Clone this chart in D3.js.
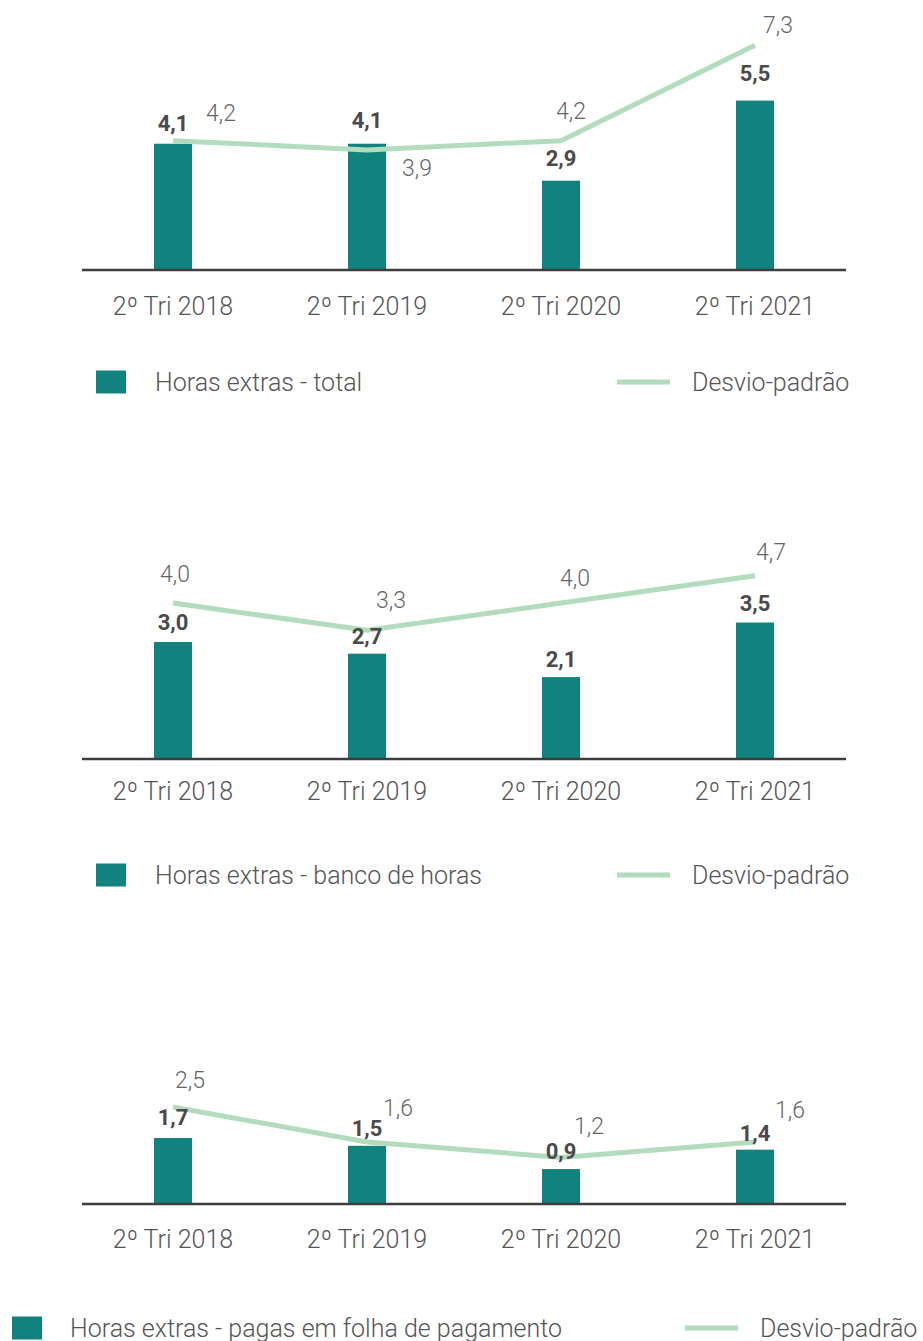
<!DOCTYPE html>
<html>
<head>
<meta charset="utf-8">
<script src="https://cdn.jsdelivr.net/npm/d3@7/dist/d3.min.js"></script>
<style>
  html, body { margin: 0; padding: 0; background: #fff; }
  svg { display: block; font-family: Roboto, "Noto Sans", sans-serif; }
</style>
</head>
<body>
<svg id="chart" width="923" height="1341"></svg>
<script>
// Quarters shown on every panel
const categories = ["2º Tri 2018", "2º Tri 2019", "2º Tri 2020", "2º Tri 2021"];

// Overtime – total
const totalHours = [4.1, 4.1, 2.9, 5.5];
const totalStdDev = [4.2, 3.9, 4.2, 7.3];

// Overtime – hour bank
const bankHours = [3.0, 2.7, 2.1, 3.5];
const bankStdDev = [4.0, 3.3, 4.0, 4.7];

// Overtime – paid through payroll
const payrollHours = [1.7, 1.5, 0.9, 1.4];
const payrollStdDev = [2.5, 1.6, 1.2, 1.6];

const seriesNames = [
  "Horas extras - total",
  "Horas extras - banco de horas",
  "Horas extras - pagas em folha de pagamento"
];
const stdDevName = "Desvio-padrão";

const BAR = "#12827e", LINE = "#b3dcbf", AXIS = "#3d3d3d";
const fmt = v => d3.format(".1f")(v).replace(".", ",");

// Panel geometry and label nudges
const panels = [
  {
    bars: totalHours, sd: totalStdDev, name: seriesNames[0],
    base: 270, yMax: 8, top: 270 - 8 * 30.8, catY: 306,
    barLab: [-20, -23, -22, -27],
    sdLab: [[48, -27], [50, 19], [10, -29], [23, -20]],
    legY: 382, legSq: 96, legTx: 155, legLn: 617, legLnTx: 692
  },
  {
    bars: bankHours, sd: bankStdDev, name: seriesNames[1],
    base: 759, yMax: 5, top: 759 - 5 * 39, catY: 791,
    barLab: [-20, -17, -18, -19],
    sdLab: [[2, -29], [24, -30], [14, -25], [16, -23]],
    legY: 875, legSq: 96, legTx: 155, legLn: 617, legLnTx: 692
  },
  {
    bars: payrollHours, sd: payrollStdDev, name: seriesNames[2],
    base: 1204, yMax: 3, top: 1204 - 3 * 38.8, catY: 1239,
    barLab: [-21, -17, -18, -16],
    sdLab: [[17, -27], [31, -33], [28, -31], [35, -31]],
    legY: 1328, legSq: 12, legTx: 70, legLn: 685, legLnTx: 760
  }
];

const svg = d3.select("#chart");
const x = d3.scalePoint().domain(categories).range([173, 755]);
const barW = 38;

panels.forEach(p => {
  const g = svg.append("g");
  const y = d3.scaleLinear().domain([0, p.yMax]).range([p.base, p.top]);

  // bars
  g.selectAll("rect.bar").data(p.bars).join("rect")
    .attr("class", "bar")
    .attr("x", (d, i) => x(categories[i]) - barW / 2)
    .attr("y", d => y(d))
    .attr("width", barW)
    .attr("height", d => y(0) - y(d))
    .attr("fill", BAR);

  // baseline axis
  g.append("line")
    .attr("x1", 82).attr("x2", 846)
    .attr("y1", p.base).attr("y2", p.base)
    .attr("stroke", AXIS).attr("stroke-width", 2.5);

  // category labels
  g.selectAll("text.cat").data(categories).join("text")
    .attr("class", "cat")
    .attr("x", d => x(d)).attr("y", p.catY)
    .attr("text-anchor", "middle").attr("dominant-baseline", "central")
    .attr("font-size", 25).attr("font-weight", 300).attr("fill", "#555")
    .text(d => d);

  // standard deviation line
  const line = d3.line().x((d, i) => x(categories[i])).y(d => y(d));
  g.append("path").datum(p.sd)
    .attr("d", line)
    .attr("fill", "none").attr("stroke", LINE).attr("stroke-width", 5)
    .attr("stroke-linejoin", "round");

  // bar value labels
  g.selectAll("text.bv").data(p.bars).join("text")
    .attr("class", "bv")
    .attr("x", (d, i) => x(categories[i]))
    .attr("y", (d, i) => y(d) + p.barLab[i])
    .attr("text-anchor", "middle").attr("dominant-baseline", "central")
    .attr("font-size", 22).attr("font-weight", 700).attr("fill", "#4a4a4a")
    .text(fmt);

  // line value labels
  g.selectAll("text.sv").data(p.sd).join("text")
    .attr("class", "sv")
    .attr("x", (d, i) => x(categories[i]) + p.sdLab[i][0])
    .attr("y", (d, i) => y(d) + p.sdLab[i][1])
    .attr("text-anchor", "middle").attr("dominant-baseline", "central")
    .attr("font-size", 23).attr("font-weight", 300).attr("fill", "#666")
    .text(fmt);

  // legend
  g.append("rect")
    .attr("x", p.legSq).attr("y", p.legY - 11.5)
    .attr("width", 30).attr("height", 23).attr("fill", BAR);
  g.append("text")
    .attr("x", p.legTx).attr("y", p.legY)
    .attr("dominant-baseline", "central")
    .attr("font-size", 25).attr("font-weight", 300).attr("fill", "#555")
    .text(p.name);
  g.append("line")
    .attr("x1", p.legLn).attr("x2", p.legLn + 53)
    .attr("y1", p.legY).attr("y2", p.legY)
    .attr("stroke", LINE).attr("stroke-width", 5);
  g.append("text")
    .attr("x", p.legLnTx).attr("y", p.legY)
    .attr("dominant-baseline", "central")
    .attr("font-size", 25).attr("font-weight", 300).attr("fill", "#555")
    .text(stdDevName);
});
</script>
</body>
</html>
